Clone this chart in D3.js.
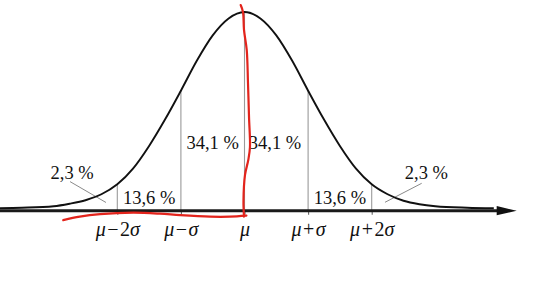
<!DOCTYPE html>
<html><head><meta charset="utf-8">
<script src="https://cdn.jsdelivr.net/npm/d3@7"></script>
<style>html,body{margin:0;padding:0;background:#fff;}svg{display:block}</style>
</head><body>
<svg id="chart" width="554" height="303"></svg>
<script>
// Bell curve: x in sigma units from the mean, y as density
const curveX = [-3.85, -3.5, -3.0, -2.75, -2.5, -2.25, -2.0, -1.75, -1.5, -1.25, -1.0, -0.75, -0.5, -0.25, 0,
                0.25, 0.5, 0.75, 1.0, 1.25, 1.5, 1.75, 2.0, 2.25, 2.5, 2.75, 3.0, 3.5, 3.92];
const curveY = [0.005, 0.006, 0.009, 0.014, 0.021, 0.033, 0.053, 0.085, 0.130, 0.183, 0.241, 0.301, 0.352, 0.386, 0.399,
                0.386, 0.352, 0.301, 0.241, 0.183, 0.130, 0.085, 0.053, 0.033, 0.020, 0.013, 0.009, 0.006, 0.005];

// Axis
const axisExtent = [-3.85, 4.28];
const tickValues = [-2, -1, 0, 1, 2];
const tickLabels = ["μ−2σ", "μ−σ", "μ", "μ+σ", "μ+2σ"];

// Band percentage labels (anchor in sigma units / density)
const bandLabels = ["2,3 %", "13,6 %", "34,1 %", "34,1 %", "13,6 %", "2,3 %"];
const bandLabelX = [-2.71, -1.5, -0.5, 0.48, 1.5, 2.86];
const bandLabelY = [0.063, 0.0135, 0.123, 0.123, 0.0135, 0.063];

// Leader lines for the outer 2,3 % labels
const leaderLeft = [[-2.743, 0.0584], [-2.178, 0.0165]];
const leaderRight = [[2.209, 0.0169], [2.786, 0.055]];

// Red hand-drawn annotation strokes
const redVertical = [[-0.06, 0.413], [-0.024, 0.399], [-0.008, 0.363], [0.035, 0.323], [0.055, 0.256], [0.071, 0.188],
                     [0.086, 0.128], [0.06, 0.102], [0.008, 0.072], [-0.016, 0.021], [-0.008, -0.012]];
const redHorizontal = [[-2.85, -0.019], [-2.59, -0.012], [-2.27, -0.007], [-1.75, -0.004], [-1.33, -0.006],
                       [-1.01, -0.009], [-0.54, -0.012], [-0.23, -0.012], [0.03, -0.010]];

const svg = d3.select("#chart");
const x = d3.scaleLinear().domain([-2, 2]).range([117.3, 371.7]);
const y = d3.scaleLinear().domain([0, 0.399]).range([210.7, 12]);
const serif = "Liberation Serif";

// vertical separator lines up to the curve
const sepG = svg.append("g");
tickValues.forEach(t => {
  const idx = curveX.indexOf(t);
  sepG.append("line")
    .attr("x1", x(t)).attr("x2", x(t))
    .attr("y1", y(0)).attr("y2", y(curveY[idx]))
    .attr("stroke", "#9a9a9a").attr("stroke-width", 1.1);
});

// leader lines
[leaderLeft, leaderRight].forEach(l => {
  svg.append("line")
    .attr("x1", x(l[0][0])).attr("y1", y(l[0][1]))
    .attr("x2", x(l[1][0])).attr("y2", y(l[1][1]))
    .attr("stroke", "#8a8a8a").attr("stroke-width", 1);
});

// curve
const pts = curveX.map((v, i) => [v, curveY[i]]);
svg.append("path")
  .attr("d", d3.line().x(d => x(d[0])).y(d => y(d[1])).curve(d3.curveMonotoneX)(pts))
  .attr("fill", "none").attr("stroke", "#111").attr("stroke-width", 1.9);

// axis
const axisG = svg.append("g").attr("transform", `translate(0,${y(0)})`);
axisG.call(d3.axisBottom(x).tickValues(tickValues).tickSize(4).tickFormat(() => ""));
axisG.select(".domain").remove();
axisG.attr("font-family", null).attr("font-size", null);
axisG.selectAll(".tick line").attr("stroke", "#666").attr("stroke-width", 1.1);
const x0 = x(axisExtent[0]), x1 = x(axisExtent[1]);
axisG.append("line").attr("x1", x0).attr("x2", x1 - 17).attr("y1", 0).attr("y2", 0)
  .attr("stroke", "#1a1a1a").attr("stroke-width", 3);
axisG.append("path")
  .attr("d", `M${x1},0 L${x1 - 20},-4.6 L${x1 - 20},4.6 Z`)
  .attr("fill", "#111");

// tick labels with italic symbols
axisG.selectAll(".tick").each(function(d, i) {
  const txt = d3.select(this).append("text")
    .attr("y", 25.5).attr("fill", "#111").attr("text-anchor", "middle")
    .attr("font-family", serif).attr("font-size", 20);
  const parts = tickLabels[i].match(/[μσ]|[−+]|[0-9]+/g);
  parts.forEach((p, k) => {
    const ts = txt.append("tspan").text(p);
    if (p === "μ" || p === "σ") ts.attr("font-style", "italic");
    if (p === "−" || p === "+") ts.attr("dx", 1.5);
    if (k > 0 && (parts[k - 1] === "−" || parts[k - 1] === "+")) ts.attr("dx", 1.5);
  });
});

// band labels
bandLabels.forEach((t, i) => {
  svg.append("text")
    .attr("x", x(bandLabelX[i])).attr("y", y(bandLabelY[i]))
    .attr("text-anchor", "middle").attr("fill", "#111")
    .attr("font-family", serif).attr("font-size", 18.5)
    .text(t);
});

// red annotation strokes
const redLine = d3.line().x(d => x(d[0])).y(d => y(d[1])).curve(d3.curveCatmullRom);
[redVertical, redHorizontal].forEach(a => {
  svg.append("path").attr("d", redLine(a))
    .attr("fill", "none").attr("stroke", "#e3241c").attr("stroke-width", 2.2)
    .attr("stroke-linecap", "round");
});
</script>
</body></html>
